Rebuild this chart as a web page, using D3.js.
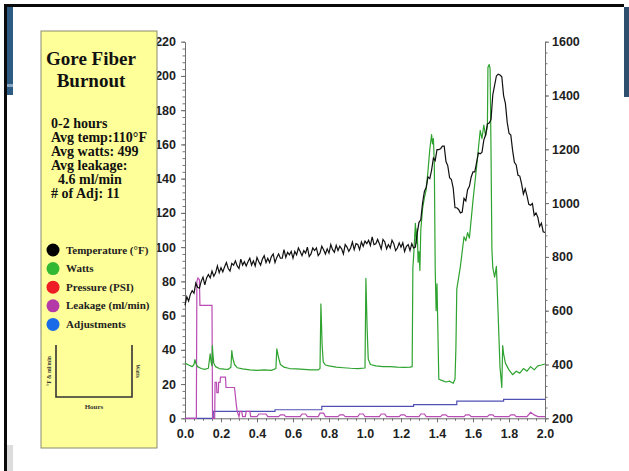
<!DOCTYPE html>
<html>
<head>
<meta charset="utf-8">
<script src="https://cdnjs.cloudflare.com/ajax/libs/d3/7.8.5/d3.min.js"></script>
<style>
  html, body { margin: 0; padding: 0; background: #fff; }
  svg { display: block; }
</style>
</head>
<body>
<svg id="chart" width="629" height="471"></svg>
<script>
// ---- Data -------------------------------------------------------------
// Temperature (°F), sampled every 0.01 h from 0.00 to 2.00 h
const tempStep = 0.01;
const temperature = [
  66,71,68.5,72.5,74.5,73,79,76.5,76,80,
  82.5,78,82,84,82,86,83,85,89,85,
  88,85.5,88.5,91,87.5,86,90.5,89.5,92,89,
  87.5,93,89.5,91.5,89,91.5,93.5,89.5,92,89,
  94,91.5,89.5,93,95,91,93.5,91,94.5,96,
  91,94,96,93.5,93.5,98.5,94,97,95.5,97.5,
  93.5,97.5,95.5,99.5,97.5,95,98,96.5,100,94.5,
  96,99.5,98,99.5,95,96.5,100.5,98.5,96,99,
  96.5,101.5,98.5,97,101,98,100.5,99,96,101.5,
  100,97.5,99.5,103,98.5,102,101.5,98.5,103,100.5,
  103.5,102,104,101,106,101.5,102,104.5,102,99,
  104.5,103,99,101.5,99.5,104,102,98,99.5,102.5,
  100,102.5,97.5,100.5,101.5,98,102,99.5,100,108,
  114.5,116,126,132.5,135,141,140,145,152,150.5,
  157,157,157.5,159,159,150,147.5,140.5,139.5,134.5,
  123,123,122,120,120.5,128.5,127,133.5,135.5,141,
  144,144,149.5,155,154.5,155.5,162.5,165.5,172,172.5,
  174.5,189,194.5,200,201,200.5,199.5,188.5,184,173,
  166.5,165.5,156.5,149.5,148,142,141.5,137,131,134,
  130,125,124.5,125.5,118.5,120,117.5,112,114,109,
  108.5
];

// Watts: sample times (h) and readings (W)
const wattsTime = [
  0.00,0.02,0.04,0.05,0.055,0.06,0.07,0.09,0.11,0.13,
  0.135,0.14,0.145,0.15,0.152,0.155,0.16,0.17,0.19,0.22,
  0.24,0.255,0.26,0.265,0.275,0.29,0.32,0.36,0.40,0.44,
  0.48,0.505,0.51,0.52,0.53,0.55,0.58,0.62,0.66,0.70,
  0.74,0.75,0.755,0.762,0.768,0.78,0.80,0.84,0.88,0.92,
  0.96,1.00,1.005,1.012,1.018,1.03,1.06,1.10,1.14,1.18,
  1.22,1.25,1.262,1.266,1.27,1.28,1.285,1.29,1.295,1.30,
  1.305,1.31,1.32,1.33,1.34,1.35,1.36,1.37,1.375,1.38,
  1.385,1.39,1.395,1.40,1.41,1.43,1.45,1.47,1.49,1.50,
  1.505,1.51,1.53,1.55,1.56,1.57,1.58,1.60,1.62,1.64,
  1.65,1.66,1.67,1.68,1.683,1.69,1.695,1.70,1.705,1.71,
  1.72,1.73,1.74,1.75,1.76,1.765,1.77,1.78,1.80,1.82,
  1.84,1.86,1.88,1.90,1.92,1.94,1.96,1.98,2.00
];
const wattsValue = [
  405,398,392,400,418,405,392,385,382,386,
  415,440,410,395,470,440,405,392,385,383,
  382,390,452,425,400,388,384,380,378,380,
  378,385,458,425,400,390,385,384,382,380,
  380,385,625,470,410,398,395,390,388,386,
  385,387,720,530,420,400,395,392,392,390,
  389,390,392,760,800,925,850,905,780,820,
  750,900,980,1020,1050,1120,1200,1255,1220,1240,
  1150,760,600,700,345,340,335,338,330,345,
  460,680,765,875,860,890,870,1010,1135,1270,
  1240,1290,1250,1285,1505,1515,1500,1200,830,760,
  725,765,580,390,315,470,440,405,380,362,
  375,368,385,375,392,380,395,398,402
];

// Leakage (ml/min): sample times (h) and readings
const leakTime = [
  0.000,0.063,0.066,0.072,0.080,0.083,0.150,0.153,0.165,0.167,
  0.175,0.177,0.185,0.187,0.195,0.197,0.225,0.228,0.275,0.285,
  0.29,0.30,0.305,0.315,0.32,0.335,0.34,0.36,0.365,0.40,
  0.41,0.45,0.46,0.52,0.53,0.55,0.56,0.64,0.65,0.67,
  0.68,0.74,0.75,0.77,0.78,0.85,0.86,0.88,0.89,0.96,
  0.97,0.99,1.00,1.08,1.09,1.11,1.12,1.19,1.20,1.22,
  1.23,1.30,1.31,1.33,1.34,1.42,1.43,1.45,1.46,1.55,
  1.56,1.58,1.59,1.68,1.69,1.71,1.72,1.80,1.81,1.83,
  1.84,1.90,1.92,1.94,1.96,2.00
];
const leakValue = [
  0,0,80,82,81,66,66,0,0,21,
  21,15,15,21,21,24,24,18,18,8,
  4,1,4,4,1,1,4,4,1,1,
  2.5,2.5,1,1,2,2,1,1,2.5,2.5,
  1,1,3,3,1,1,2,2,1,1,
  2.5,2.5,1,1,2.5,2.5,1,1,2,2,
  1,1,2.5,2.5,1,1,2,2,1,1,
  2,2,1,1,2,2,1,1,2,2,
  1,1,3.5,2,1,1
];

// Adjustments: cumulative count, stepped at each change
const adjTime  = [0, 0.157, 0.50, 0.76, 1.27, 1.51, 1.77, 2.00];
const adjCount = [0, 4, 5, 7, 8, 10, 11, 11];

// Axis ticks
const leftTicks  = d3.range(0, 221, 20);
const rightTicks = d3.range(200, 1601, 200);
const xTicks     = d3.range(0, 2.001, 0.2);

// Summary panel text
const panelTitle = ["Gore Fiber", "Burnout"];
const panelStats = ["0-2 hours", "Avg temp:110°F", "Avg watts: 499", "Avg leakage:", "  4.6 ml/min", "# of Adj: 11"];
const legendNames  = ["Temperature (°F)", "Watts", "Pressure (PSI)", "Leakage (ml/min)", "Adjustments"];
const legendColors = ["#000000", "#33b833", "#ee1c24", "#b43aa8", "#1a6be8"];

// ---- Drawing ----------------------------------------------------------
const svg = d3.select("#chart");

// Slide frame
svg.append("rect").attr("x", 4).attr("y", 4).attr("width", 620).attr("height", 3).attr("fill", "#0a0a0a");
svg.append("rect").attr("x", 4).attr("y", 4).attr("width", 3).attr("height", 467).attr("fill", "#0a0a0a");
svg.append("rect").attr("x", 7).attr("y", 7).attr("width", 6).attr("height", 88).attr("fill", "#2d5b82");
svg.append("rect").attr("x", 7).attr("y", 84).attr("width", 6).attr("height", 3).attr("fill", "#8aa8c4");
svg.append("rect").attr("x", 7).attr("y", 445).attr("width", 6).attr("height", 26).attr("fill", "#dcdcdc");
svg.append("rect").attr("x", 624).attr("y", 7).attr("width", 5).attr("height", 90).attr("fill", "#2f4f6e");

// Scales
const x  = d3.scaleLinear().domain([0, 2]).range([185, 545]);
const yL = d3.scaleLinear().domain([0, 220]).range([418.3, 41.7]);
const yR = d3.scaleLinear().domain([200, 1600]).range([418.3, 41.7]);

// Axes
function styleAxis(g) {
  g.select(".domain").attr("stroke", "#6e6e6e").attr("stroke-width", 1);
  g.selectAll(".tick line").attr("stroke", "#6e6e6e");
  g.selectAll("text").attr("font-family", "'Liberation Sans', Arial, sans-serif")
    .attr("font-weight", "bold").attr("font-size", "12.5px").attr("fill", "#1e1e1e");
}

const gLeftMinor = svg.append("g").attr("transform", "translate(185,0)")
  .call(d3.axisLeft(yL).tickValues(d3.range(0, 221, 4)).tickSize(2.5).tickFormat(""));
gLeftMinor.select(".domain").remove();
gLeftMinor.selectAll("line").attr("stroke", "#777");
svg.append("g").attr("transform", "translate(185,0)")
  .call(d3.axisLeft(yL).tickValues(leftTicks).tickSize(4).tickPadding(5).tickSizeOuter(0)
    .tickFormat(d3.format("d")))
  .call(styleAxis);

const gRightMinor = svg.append("g").attr("transform", "translate(545,0)")
  .call(d3.axisRight(yR).tickValues(d3.range(200, 1601, 40)).tickSize(2.5).tickFormat(""));
gRightMinor.select(".domain").remove();
gRightMinor.selectAll("line").attr("stroke", "#777");
svg.append("g").attr("transform", "translate(545,0)")
  .call(d3.axisRight(yR).tickValues(rightTicks).tickSize(4).tickPadding(3).tickSizeOuter(0)
    .tickFormat(d3.format("d")))
  .call(styleAxis);

const gBottomMinor = svg.append("g").attr("transform", "translate(0,418.3)")
  .call(d3.axisBottom(x).tickValues(d3.range(0, 2.001, 0.05)).tickSize(2.5).tickFormat(""));
gBottomMinor.select(".domain").remove();
gBottomMinor.selectAll("line").attr("stroke", "#777");
svg.append("g").attr("transform", "translate(0,418.3)")
  .call(d3.axisBottom(x).tickValues(xTicks).tickSize(4).tickPadding(7).tickSizeOuter(0)
    .tickFormat(d3.format(".1f")))
  .call(styleAxis);

// Series lines
const plot = svg.append("g");

plot.append("path")
  .datum(adjTime.map((t, i) => [t, adjCount[i]]))
  .attr("fill", "none").attr("stroke", "#5050b4").attr("stroke-width", 1.2)
  .attr("d", d3.line().curve(d3.curveStepAfter).x(d => x(d[0])).y(d => yL(d[1])));

plot.append("path")
  .datum(leakTime.map((t, i) => [t, leakValue[i]]))
  .attr("fill", "none").attr("stroke", "#b94bb4").attr("stroke-width", 1.2)
  .attr("d", d3.line().x(d => x(d[0])).y(d => yL(d[1])));

plot.append("path")
  .datum(wattsTime.map((t, i) => [t, wattsValue[i]]))
  .attr("fill", "none").attr("stroke", "#2fa32f").attr("stroke-width", 1.2)
  .attr("stroke-linejoin", "round")
  .attr("d", d3.line().x(d => x(d[0])).y(d => yR(d[1])));

plot.append("path")
  .datum(temperature.map((v, i) => [i * tempStep, v]))
  .attr("fill", "none").attr("stroke", "#111").attr("stroke-width", 1.2)
  .attr("d", d3.line().x(d => x(d[0])).y(d => yL(d[1])));

// Summary panel
const panel = svg.append("g");
panel.append("rect").attr("x", 41).attr("y", 31).attr("width", 116).attr("height", 417)
  .attr("fill", "#ffff99").attr("stroke", "#8a8a70").attr("stroke-width", 1);

const serif = "'Liberation Serif', 'Times New Roman', serif";
panel.selectAll("text.title").data(panelTitle).join("text")
  .attr("class", "title")
  .attr("x", 91).attr("y", (d, i) => 65 + i * 22)
  .attr("text-anchor", "middle")
  .attr("font-family", serif).attr("font-weight", "bold").attr("font-size", "19px")
  .attr("fill", "#111").text(d => d);

panel.selectAll("text.stat").data(panelStats).join("text")
  .attr("class", "stat")
  .attr("x", 51).attr("y", (d, i) => 128 + i * 14)
  .attr("xml:space", "preserve")
  .style("white-space", "pre")
  .attr("font-family", serif).attr("font-weight", "bold").attr("font-size", "14px")
  .attr("fill", "#111").text(d => d);

const leg = panel.selectAll("g.leg").data(legendNames).join("g")
  .attr("class", "leg")
  .attr("transform", (d, i) => `translate(53,${250 + i * 18.6})`);
leg.append("circle").attr("r", 6.5).attr("fill", (d, i) => legendColors[i]);
leg.append("text").attr("x", 13).attr("y", 3.5)
  .attr("font-family", serif).attr("font-weight", "bold").attr("font-size", "11px")
  .attr("fill", "#222").text(d => d);

// Small axis key
panel.append("path")
  .attr("d", "M56,345 V397 H132 V345")
  .attr("fill", "none").attr("stroke", "#333").attr("stroke-width", 1.6);
panel.append("text").attr("transform", "translate(51,371) rotate(-90)")
  .attr("text-anchor", "middle")
  .attr("font-family", serif).attr("font-weight", "bold").attr("font-size", "5.5px")
  .attr("fill", "#333").text("°F & ml/min");
panel.append("text").attr("transform", "translate(136,371) rotate(90)")
  .attr("text-anchor", "middle")
  .attr("font-family", serif).attr("font-weight", "bold").attr("font-size", "5.5px")
  .attr("fill", "#333").text("Watts");
panel.append("text").attr("x", 94).attr("y", 409)
  .attr("text-anchor", "middle")
  .attr("font-family", serif).attr("font-weight", "bold").attr("font-size", "7px")
  .attr("fill", "#333").text("Hours");
</script>
</body>
</html>
